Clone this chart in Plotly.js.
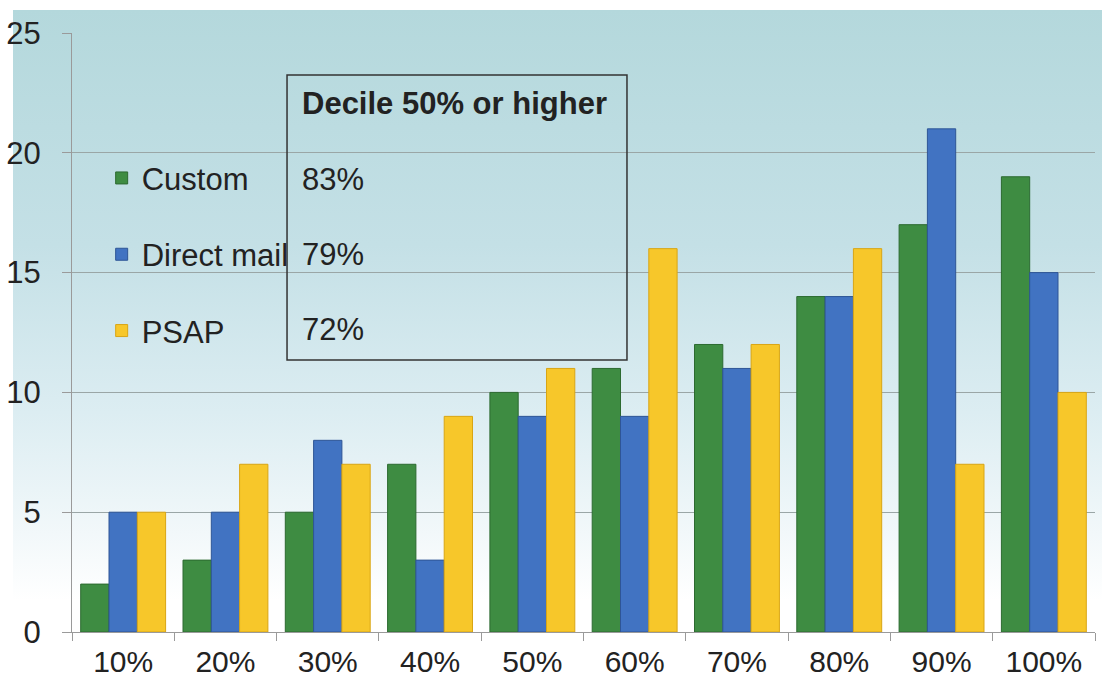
<!DOCTYPE html>
<html>
<head>
<meta charset="utf-8">
<script src="https://cdn.plot.ly/plotly-3.0.1.min.js"></script>
<style>
  html, body { margin: 0; padding: 0; background: #ffffff; }
  #wrap { position: relative; width: 1102px; height: 681px; overflow: hidden; }
  #bg {
    position: absolute; left: 13px; top: 10px; width: 1089px; height: 671px;
    background: linear-gradient(to bottom, #b4d8dc 0%, #c4e0e6 35%, #dcedf2 60%, #f2f8fa 78%, #ffffff 88%, #ffffff 100%);
  }
  #chart { position: absolute; left: 0; top: 0; width: 1102px; height: 681px; }
</style>
</head>
<body>
<div id="wrap">
  <div id="bg"></div>
  <div id="chart"></div>
</div>
<script>
// Decile categories along the x axis
const deciles = ['10%', '20%', '30%', '40%', '50%', '60%', '70%', '80%', '90%', '100%'];

// Counts per decile for each campaign type
const customCounts     = [2, 3, 5, 7, 10, 11, 12, 14, 17, 19];
const directMailCounts = [5, 5, 8, 3, 9, 9, 11, 14, 21, 15];
const psapCounts       = [5, 7, 7, 9, 11, 16, 12, 16, 7, 10];

// Share of responses at decile 50% or higher
const shareLabels = ['83%', '79%', '72%'];
const boxTitle = 'Decile 50% or higher';

const font = 'Liberation Sans, Arial, sans-serif';
const fs = 31;

function barTrace(name, values, fill, edge, group) {
  return {
    type: 'bar', name: name, x: deciles, y: values,
    legendgroup: group,
    marker: { color: fill, line: { color: edge, width: 1 } },
    hoverinfo: 'x+y+name'
  };
}

const data = [
  barTrace('Custom', customCounts, '#3e8c42', '#2c6a30', 'g1'),
  barTrace('Direct mail', directMailCounts, '#4173c2', '#2e5596', 'g2'),
  barTrace('PSAP', psapCounts, '#f7c72a', '#d9a514', 'g3')
];

const annY = [0.7546, 0.6294, 0.5042];
const annotations = [{
  xref: 'paper', yref: 'paper', x: 0.2229, y: 0.883,
  xanchor: 'left', yanchor: 'middle', showarrow: false,
  text: '<b>' + boxTitle + '</b>',
  font: { family: font, size: fs, color: '#222222' }
}].concat(shareLabels.map((t, i) => ({
  xref: 'paper', yref: 'paper', x: 0.2229, y: annY[i],
  xanchor: 'left', yanchor: 'middle', showarrow: false,
  text: t,
  font: { family: font, size: fs, color: '#222222' }
})));

const layout = {
  width: 1102, height: 681,
  margin: { l: 72, r: 7, t: 33, b: 49 },
  paper_bgcolor: 'rgba(0,0,0,0)',
  plot_bgcolor: 'rgba(0,0,0,0)',
  font: { family: font, size: fs, color: '#222222' },
  barmode: 'group',
  bargap: 0.17,
  bargroupgap: 0,
  showlegend: true,
  legend: {
    x: 0.029, y: 0.8025, xanchor: 'left', yanchor: 'top',
    bgcolor: 'rgba(0,0,0,0)',
    traceorder: 'grouped',
    tracegroupgap: 33,
    font: { family: font, size: fs, color: '#222222' }
  },
  xaxis: {
    type: 'category',
    tickson: 'boundaries',
    ticks: 'outside', ticklen: 8, tickcolor: '#9a9a9a',
    showline: true, linecolor: '#9a9a9a', linewidth: 1,
    showgrid: false,
    tickfont: { family: font, size: 30, color: '#222222' },
    ticklabelstandoff: 3
  },
  yaxis: {
    range: [0, 25],
    tickvals: [0, 5, 10, 15, 20, 25],
    ticks: 'outside', ticklen: 9, tickcolor: '#9a9a9a',
    showline: true, linecolor: '#9a9a9a', linewidth: 1,
    gridcolor: '#9aa6a6', gridwidth: 1,
    zeroline: false,
    tickfont: { family: font, size: fs, color: '#222222' },
    ticklabelstandoff: 15
  },
  shapes: [{
    type: 'rect', xref: 'paper', yref: 'paper',
    x0: 0.2102, x1: 0.5425, y0: 0.454, y1: 0.930,
    line: { color: '#333333', width: 1.5 },
    fillcolor: 'rgba(0,0,0,0)'
  }],
  annotations: annotations
};

Plotly.newPlot('chart', data, layout, { displayModeBar: false, staticPlot: true });
</script>
</body>
</html>
